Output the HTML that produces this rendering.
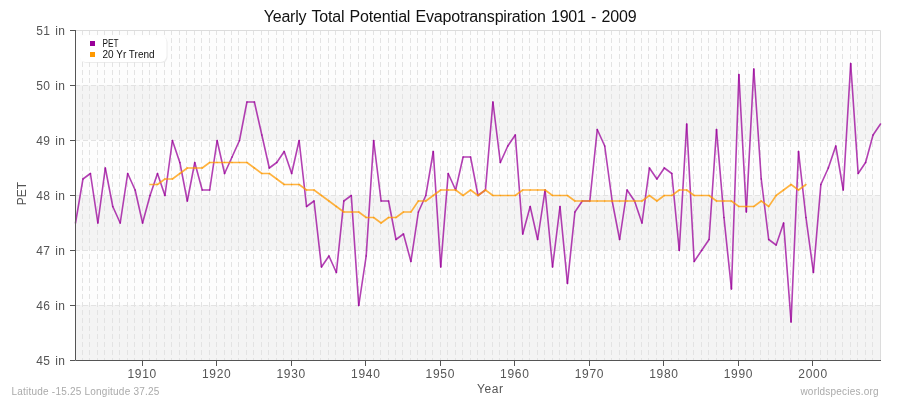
<!DOCTYPE html><html><head><meta charset="utf-8"><style>html,body{margin:0;padding:0;background:#fff;width:900px;height:400px;overflow:hidden}svg{display:block;will-change:transform}text{font-family:"Liberation Sans",sans-serif}</style></head><body>
<svg width="900" height="400" viewBox="0 0 900 400">
<rect x="0" y="0" width="900" height="400" fill="#ffffff"/>
<rect x="75.0" y="30.0" width="805.0" height="55.0" fill="#fdfdfd"/>
<rect x="75.0" y="85.0" width="805.0" height="55.0" fill="#f4f4f4"/>
<rect x="75.0" y="140.0" width="805.0" height="55.0" fill="#fdfdfd"/>
<rect x="75.0" y="195.0" width="805.0" height="55.0" fill="#f4f4f4"/>
<rect x="75.0" y="250.0" width="805.0" height="55.0" fill="#fdfdfd"/>
<rect x="75.0" y="305.0" width="805.0" height="55.0" fill="#f4f4f4"/>
<path d="M82.50 30.0V360 M89.50 30.0V360 M97.50 30.0V360 M104.50 30.0V360 M112.50 30.0V360 M119.50 30.0V360 M127.50 30.0V360 M134.50 30.0V360 M142.50 30.0V360 M149.50 30.0V360 M156.50 30.0V360 M164.50 30.0V360 M171.50 30.0V360 M179.50 30.0V360 M186.50 30.0V360 M194.50 30.0V360 M201.50 30.0V360 M209.50 30.0V360 M216.50 30.0V360 M224.50 30.0V360 M231.50 30.0V360 M238.50 30.0V360 M246.50 30.0V360 M253.50 30.0V360 M261.50 30.0V360 M268.50 30.0V360 M276.50 30.0V360 M283.50 30.0V360 M291.50 30.0V360 M298.50 30.0V360 M306.50 30.0V360 M313.50 30.0V360 M320.50 30.0V360 M328.50 30.0V360 M335.50 30.0V360 M343.50 30.0V360 M350.50 30.0V360 M358.50 30.0V360 M365.50 30.0V360 M373.50 30.0V360 M380.50 30.0V360 M388.50 30.0V360 M395.50 30.0V360 M402.50 30.0V360 M410.50 30.0V360 M417.50 30.0V360 M425.50 30.0V360 M432.50 30.0V360 M440.50 30.0V360 M447.50 30.0V360 M455.50 30.0V360 M462.50 30.0V360 M470.50 30.0V360 M477.50 30.0V360 M484.50 30.0V360 M492.50 30.0V360 M499.50 30.0V360 M507.50 30.0V360 M514.50 30.0V360 M522.50 30.0V360 M529.50 30.0V360 M537.50 30.0V360 M544.50 30.0V360 M552.50 30.0V360 M559.50 30.0V360 M566.50 30.0V360 M574.50 30.0V360 M581.50 30.0V360 M589.50 30.0V360 M596.50 30.0V360 M604.50 30.0V360 M611.50 30.0V360 M619.50 30.0V360 M626.50 30.0V360 M634.50 30.0V360 M641.50 30.0V360 M648.50 30.0V360 M656.50 30.0V360 M663.50 30.0V360 M671.50 30.0V360 M678.50 30.0V360 M686.50 30.0V360 M693.50 30.0V360 M701.50 30.0V360 M708.50 30.0V360 M716.50 30.0V360 M723.50 30.0V360 M730.50 30.0V360 M738.50 30.0V360 M745.50 30.0V360 M753.50 30.0V360 M760.50 30.0V360 M768.50 30.0V360 M775.50 30.0V360 M783.50 30.0V360 M790.50 30.0V360 M798.50 30.0V360 M805.50 30.0V360 M812.50 30.0V360 M820.50 30.0V360 M827.50 30.0V360 M835.50 30.0V360 M842.50 30.0V360 M850.50 30.0V360 M857.50 30.0V360 M865.50 30.0V360 M872.50 30.0V360" stroke="#e3e3e3" stroke-width="1" stroke-dasharray="5 3" fill="none"/>
<path d="M75.0 85.5H880.0 M75.0 140.5H880.0 M75.0 195.5H880.0 M75.0 250.5H880.0 M75.0 305.5H880.0" stroke="#e3e3e3" stroke-width="1" stroke-dasharray="5 3" fill="none"/>
<path d="M75.0 30.5H880.5V360" stroke="#dcdcdc" stroke-width="1" fill="none"/>
<g stroke="#990099" stroke-width="1.6" stroke-opacity="0.75" stroke-linecap="round" fill="none">
<path d="M75.50 223.00L82.95 179.00"/>
<path d="M82.95 179.00L90.41 173.50"/>
<path d="M90.41 173.50L97.86 223.00"/>
<path d="M97.86 223.00L105.31 168.00"/>
<path d="M105.31 168.00L112.77 206.50"/>
<path d="M112.77 206.50L120.22 223.00"/>
<path d="M120.22 223.00L127.68 173.50"/>
<path d="M127.68 173.50L135.13 190.00"/>
<path d="M135.13 190.00L142.58 223.00"/>
<path d="M142.58 223.00L150.04 195.50"/>
<path d="M150.04 195.50L157.49 173.50"/>
<path d="M157.49 173.50L164.94 195.50"/>
<path d="M164.94 195.50L172.40 140.50"/>
<path d="M172.40 140.50L179.85 162.50"/>
<path d="M179.85 162.50L187.31 201.00"/>
<path d="M187.31 201.00L194.76 162.50"/>
<path d="M194.76 162.50L202.21 190.00"/>
<path d="M202.21 190.00L209.67 190.00"/>
<path d="M209.67 190.00L217.12 140.50"/>
<path d="M217.12 140.50L224.57 173.50"/>
<path d="M224.57 173.50L232.03 157.00"/>
<path d="M232.03 157.00L239.48 140.50"/>
<path d="M239.48 140.50L246.94 102.00"/>
<path d="M246.94 102.00L254.39 102.00"/>
<path d="M254.39 102.00L261.84 135.00"/>
<path d="M261.84 135.00L269.30 168.00"/>
<path d="M269.30 168.00L276.75 162.50"/>
<path d="M276.75 162.50L284.20 151.50"/>
<path d="M284.20 151.50L291.66 173.50"/>
<path d="M291.66 173.50L299.11 140.50"/>
<path d="M299.11 140.50L306.56 206.50"/>
<path d="M306.56 206.50L314.02 201.00"/>
<path d="M314.02 201.00L321.47 267.00"/>
<path d="M321.47 267.00L328.93 256.00"/>
<path d="M328.93 256.00L336.38 272.50"/>
<path d="M336.38 272.50L343.83 201.00"/>
<path d="M343.83 201.00L351.29 195.50"/>
<path d="M351.29 195.50L358.74 305.50"/>
<path d="M358.74 305.50L366.19 256.00"/>
<path d="M366.19 256.00L373.65 140.50"/>
<path d="M373.65 140.50L381.10 201.00"/>
<path d="M381.10 201.00L388.56 201.00"/>
<path d="M388.56 201.00L396.01 239.50"/>
<path d="M396.01 239.50L403.46 234.00"/>
<path d="M403.46 234.00L410.92 261.50"/>
<path d="M410.92 261.50L418.37 212.00"/>
<path d="M418.37 212.00L425.82 195.50"/>
<path d="M425.82 195.50L433.28 151.50"/>
<path d="M433.28 151.50L440.73 267.00"/>
<path d="M440.73 267.00L448.19 173.50"/>
<path d="M448.19 173.50L455.64 190.00"/>
<path d="M455.64 190.00L463.09 157.00"/>
<path d="M463.09 157.00L470.55 157.00"/>
<path d="M470.55 157.00L478.00 195.50"/>
<path d="M478.00 195.50L485.45 190.00"/>
<path d="M485.45 190.00L492.91 102.00"/>
<path d="M492.91 102.00L500.36 162.50"/>
<path d="M500.36 162.50L507.81 146.00"/>
<path d="M507.81 146.00L515.27 135.00"/>
<path d="M515.27 135.00L522.72 234.00"/>
<path d="M522.72 234.00L530.18 206.50"/>
<path d="M530.18 206.50L537.63 239.50"/>
<path d="M537.63 239.50L545.08 190.00"/>
<path d="M545.08 190.00L552.54 267.00"/>
<path d="M552.54 267.00L559.99 206.50"/>
<path d="M559.99 206.50L567.44 283.50"/>
<path d="M567.44 283.50L574.90 212.00"/>
<path d="M574.90 212.00L582.35 201.00"/>
<path d="M582.35 201.00L589.81 201.00"/>
<path d="M589.81 201.00L597.26 129.50"/>
<path d="M597.26 129.50L604.71 146.00"/>
<path d="M604.71 146.00L612.17 201.00"/>
<path d="M612.17 201.00L619.62 239.50"/>
<path d="M619.62 239.50L627.07 190.00"/>
<path d="M627.07 190.00L634.53 201.00"/>
<path d="M634.53 201.00L641.98 223.00"/>
<path d="M641.98 223.00L649.44 168.00"/>
<path d="M649.44 168.00L656.89 179.00"/>
<path d="M656.89 179.00L664.34 168.00"/>
<path d="M664.34 168.00L671.80 173.50"/>
<path d="M671.80 173.50L679.25 250.50"/>
<path d="M679.25 250.50L686.70 124.00"/>
<path d="M686.70 124.00L694.16 261.50"/>
<path d="M694.16 261.50L701.61 250.50"/>
<path d="M701.61 250.50L709.06 239.50"/>
<path d="M709.06 239.50L716.52 129.50"/>
<path d="M716.52 129.50L723.97 217.50"/>
<path d="M723.97 217.50L731.43 289.00"/>
<path d="M731.43 289.00L738.88 74.50"/>
<path d="M738.88 74.50L746.33 212.00"/>
<path d="M746.33 212.00L753.79 69.00"/>
<path d="M753.79 69.00L761.24 179.00"/>
<path d="M761.24 179.00L768.69 239.50"/>
<path d="M768.69 239.50L776.15 245.00"/>
<path d="M776.15 245.00L783.60 223.00"/>
<path d="M783.60 223.00L791.06 322.00"/>
<path d="M791.06 322.00L798.51 151.50"/>
<path d="M798.51 151.50L805.96 217.50"/>
<path d="M805.96 217.50L813.42 272.50"/>
<path d="M813.42 272.50L820.87 184.50"/>
<path d="M820.87 184.50L828.32 168.00"/>
<path d="M828.32 168.00L835.78 146.00"/>
<path d="M835.78 146.00L843.23 190.00"/>
<path d="M843.23 190.00L850.69 63.50"/>
<path d="M850.69 63.50L858.14 173.50"/>
<path d="M858.14 173.50L865.59 162.50"/>
<path d="M865.59 162.50L873.05 135.00"/>
<path d="M873.05 135.00L880.50 124.00"/>
</g>
<g stroke="#ff9900" stroke-width="1.6" stroke-opacity="0.75" stroke-linecap="round" fill="none">
<path d="M150.04 184.50L157.49 184.50"/>
<path d="M157.49 184.50L164.94 179.00"/>
<path d="M164.94 179.00L172.40 179.00"/>
<path d="M172.40 179.00L179.85 173.50"/>
<path d="M179.85 173.50L187.31 168.00"/>
<path d="M187.31 168.00L194.76 168.00"/>
<path d="M194.76 168.00L202.21 168.00"/>
<path d="M202.21 168.00L209.67 162.50"/>
<path d="M209.67 162.50L217.12 162.50"/>
<path d="M217.12 162.50L224.57 162.50"/>
<path d="M224.57 162.50L232.03 162.50"/>
<path d="M232.03 162.50L239.48 162.50"/>
<path d="M239.48 162.50L246.94 162.50"/>
<path d="M246.94 162.50L254.39 168.00"/>
<path d="M254.39 168.00L261.84 173.50"/>
<path d="M261.84 173.50L269.30 173.50"/>
<path d="M269.30 173.50L276.75 179.00"/>
<path d="M276.75 179.00L284.20 184.50"/>
<path d="M284.20 184.50L291.66 184.50"/>
<path d="M291.66 184.50L299.11 184.50"/>
<path d="M299.11 184.50L306.56 190.00"/>
<path d="M306.56 190.00L314.02 190.00"/>
<path d="M314.02 190.00L321.47 195.50"/>
<path d="M321.47 195.50L328.93 201.00"/>
<path d="M328.93 201.00L336.38 206.50"/>
<path d="M336.38 206.50L343.83 212.00"/>
<path d="M343.83 212.00L351.29 212.00"/>
<path d="M351.29 212.00L358.74 212.00"/>
<path d="M358.74 212.00L366.19 217.50"/>
<path d="M366.19 217.50L373.65 217.50"/>
<path d="M373.65 217.50L381.10 223.00"/>
<path d="M381.10 223.00L388.56 217.50"/>
<path d="M388.56 217.50L396.01 217.50"/>
<path d="M396.01 217.50L403.46 212.00"/>
<path d="M403.46 212.00L410.92 212.00"/>
<path d="M410.92 212.00L418.37 201.00"/>
<path d="M418.37 201.00L425.82 201.00"/>
<path d="M425.82 201.00L433.28 195.50"/>
<path d="M433.28 195.50L440.73 190.00"/>
<path d="M440.73 190.00L448.19 190.00"/>
<path d="M448.19 190.00L455.64 190.00"/>
<path d="M455.64 190.00L463.09 195.50"/>
<path d="M463.09 195.50L470.55 190.00"/>
<path d="M470.55 190.00L478.00 195.50"/>
<path d="M478.00 195.50L485.45 190.00"/>
<path d="M485.45 190.00L492.91 195.50"/>
<path d="M492.91 195.50L500.36 195.50"/>
<path d="M500.36 195.50L507.81 195.50"/>
<path d="M507.81 195.50L515.27 195.50"/>
<path d="M515.27 195.50L522.72 190.00"/>
<path d="M522.72 190.00L530.18 190.00"/>
<path d="M530.18 190.00L537.63 190.00"/>
<path d="M537.63 190.00L545.08 190.00"/>
<path d="M545.08 190.00L552.54 195.50"/>
<path d="M552.54 195.50L559.99 195.50"/>
<path d="M559.99 195.50L567.44 195.50"/>
<path d="M567.44 195.50L574.90 201.00"/>
<path d="M574.90 201.00L582.35 201.00"/>
<path d="M582.35 201.00L589.81 201.00"/>
<path d="M589.81 201.00L597.26 201.00"/>
<path d="M597.26 201.00L604.71 201.00"/>
<path d="M604.71 201.00L612.17 201.00"/>
<path d="M612.17 201.00L619.62 201.00"/>
<path d="M619.62 201.00L627.07 201.00"/>
<path d="M627.07 201.00L634.53 201.00"/>
<path d="M634.53 201.00L641.98 201.00"/>
<path d="M641.98 201.00L649.44 195.50"/>
<path d="M649.44 195.50L656.89 201.00"/>
<path d="M656.89 201.00L664.34 195.50"/>
<path d="M664.34 195.50L671.80 195.50"/>
<path d="M671.80 195.50L679.25 190.00"/>
<path d="M679.25 190.00L686.70 190.00"/>
<path d="M686.70 190.00L694.16 195.50"/>
<path d="M694.16 195.50L701.61 195.50"/>
<path d="M701.61 195.50L709.06 195.50"/>
<path d="M709.06 195.50L716.52 201.00"/>
<path d="M716.52 201.00L723.97 201.00"/>
<path d="M723.97 201.00L731.43 201.00"/>
<path d="M731.43 201.00L738.88 206.50"/>
<path d="M738.88 206.50L746.33 206.50"/>
<path d="M746.33 206.50L753.79 206.50"/>
<path d="M753.79 206.50L761.24 201.00"/>
<path d="M761.24 201.00L768.69 206.50"/>
<path d="M768.69 206.50L776.15 195.50"/>
<path d="M776.15 195.50L783.60 190.00"/>
<path d="M783.60 190.00L791.06 184.50"/>
<path d="M791.06 184.50L798.51 190.00"/>
<path d="M798.51 190.00L805.96 184.50"/>
</g>
<path d="M75.5 30.0V360.5H881.0" stroke="#555555" stroke-width="1" fill="none"/>
<path d="M70 30.5H75" stroke="#555555" stroke-width="1"/>
<text x="65.3" y="34.5" font-size="12" fill="#555555" text-anchor="end" letter-spacing="0.3" word-spacing="1.5">51 in</text>
<path d="M70 85.5H75" stroke="#555555" stroke-width="1"/>
<text x="65.3" y="89.5" font-size="12" fill="#555555" text-anchor="end" letter-spacing="0.3" word-spacing="1.5">50 in</text>
<path d="M70 140.5H75" stroke="#555555" stroke-width="1"/>
<text x="65.3" y="144.5" font-size="12" fill="#555555" text-anchor="end" letter-spacing="0.3" word-spacing="1.5">49 in</text>
<path d="M70 195.5H75" stroke="#555555" stroke-width="1"/>
<text x="65.3" y="199.5" font-size="12" fill="#555555" text-anchor="end" letter-spacing="0.3" word-spacing="1.5">48 in</text>
<path d="M70 250.5H75" stroke="#555555" stroke-width="1"/>
<text x="65.3" y="254.5" font-size="12" fill="#555555" text-anchor="end" letter-spacing="0.3" word-spacing="1.5">47 in</text>
<path d="M70 305.5H75" stroke="#555555" stroke-width="1"/>
<text x="65.3" y="309.5" font-size="12" fill="#555555" text-anchor="end" letter-spacing="0.3" word-spacing="1.5">46 in</text>
<path d="M70 360.5H75" stroke="#555555" stroke-width="1"/>
<text x="65.3" y="364.5" font-size="12" fill="#555555" text-anchor="end" letter-spacing="0.3" word-spacing="1.5">45 in</text>
<path d="M142.5 360V366" stroke="#555555" stroke-width="1"/>
<text x="142.18" y="378" font-size="12" fill="#555555" text-anchor="middle" letter-spacing="0.7">1910</text>
<path d="M216.5 360V366" stroke="#555555" stroke-width="1"/>
<text x="216.72" y="378" font-size="12" fill="#555555" text-anchor="middle" letter-spacing="0.7">1920</text>
<path d="M291.5 360V366" stroke="#555555" stroke-width="1"/>
<text x="291.26" y="378" font-size="12" fill="#555555" text-anchor="middle" letter-spacing="0.7">1930</text>
<path d="M365.5 360V366" stroke="#555555" stroke-width="1"/>
<text x="365.79" y="378" font-size="12" fill="#555555" text-anchor="middle" letter-spacing="0.7">1940</text>
<path d="M440.5 360V366" stroke="#555555" stroke-width="1"/>
<text x="440.33" y="378" font-size="12" fill="#555555" text-anchor="middle" letter-spacing="0.7">1950</text>
<path d="M514.5 360V366" stroke="#555555" stroke-width="1"/>
<text x="514.87" y="378" font-size="12" fill="#555555" text-anchor="middle" letter-spacing="0.7">1960</text>
<path d="M589.5 360V366" stroke="#555555" stroke-width="1"/>
<text x="589.41" y="378" font-size="12" fill="#555555" text-anchor="middle" letter-spacing="0.7">1970</text>
<path d="M663.5 360V366" stroke="#555555" stroke-width="1"/>
<text x="663.94" y="378" font-size="12" fill="#555555" text-anchor="middle" letter-spacing="0.7">1980</text>
<path d="M738.5 360V366" stroke="#555555" stroke-width="1"/>
<text x="738.48" y="378" font-size="12" fill="#555555" text-anchor="middle" letter-spacing="0.7">1990</text>
<path d="M812.5 360V366" stroke="#555555" stroke-width="1"/>
<text x="813.02" y="378" font-size="12" fill="#555555" text-anchor="middle" letter-spacing="0.7">2000</text>
<text x="490.3" y="393" font-size="12" fill="#555555" text-anchor="middle" letter-spacing="0.6">Year</text>
<text transform="translate(26,193.5) rotate(-90)" x="0" y="0" font-size="12" fill="#555555" text-anchor="middle">PET</text>
<text x="450" y="22" font-size="16" fill="#111111" text-anchor="middle" letter-spacing="-0.18" word-spacing="1">Yearly Total Potential Evapotranspiration 1901 - 2009</text>
<text x="11.5" y="395" font-size="10" fill="#aaaaaa" letter-spacing="0.22">Latitude -15.25 Longitude 37.25</text>
<text x="878.7" y="395" font-size="10" fill="#aaaaaa" text-anchor="end" letter-spacing="0.2">worldspecies.org</text>
<rect x="80.5" y="36.5" width="87" height="26.5" rx="6" ry="6" fill="#e4e4e4" opacity="0.7"/>
<rect x="79.5" y="35.5" width="87" height="26.5" rx="6" ry="6" fill="#ffffff"/>
<rect x="90" y="41" width="5" height="5" fill="#990099"/>
<rect x="90" y="52" width="5" height="5" fill="#ff9900"/>
<text x="102.5" y="47" font-size="10" fill="#111111" textLength="16" lengthAdjust="spacingAndGlyphs">PET</text>
<text x="102.5" y="57.5" font-size="10" fill="#111111">20 Yr Trend</text>
</svg></body></html>
